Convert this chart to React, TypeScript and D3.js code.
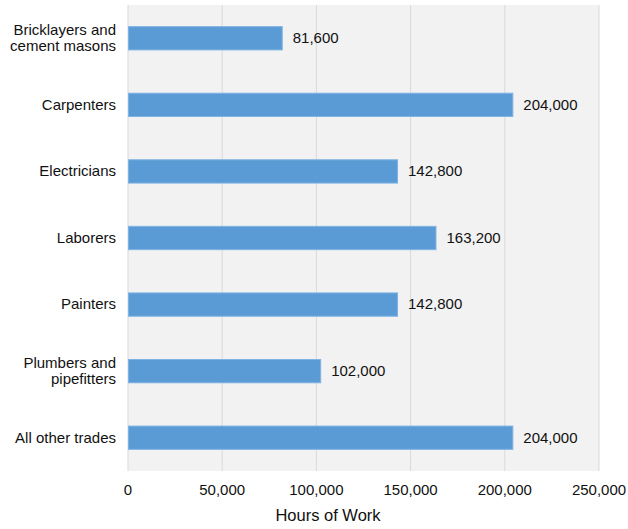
import React from "react";
import * as d3 from "d3";

const categories = [
  "Bricklayers and\ncement masons",
  "Carpenters",
  "Electricians",
  "Laborers",
  "Painters",
  "Plumbers and\npipefitters",
  "All other trades",
];
const hours = [81600, 204000, 142800, 163200, 142800, 102000, 204000];
const xTicks = [0, 50000, 100000, 150000, 200000, 250000];
const axisTitle = "Hours of Work";

const W = 628;
const H = 529;
const M = { left: 128, right: 29, top: 5, bottom: 58 };
const FONT = "'Liberation Sans', Arial, sans-serif";
const TEXT = "#111";

export default function App() {
  const x = d3.scaleLinear().domain([0, 250000]).range([M.left, W - M.right]);
  const y = d3
    .scaleBand<string>()
    .domain(categories)
    .range([M.top, H - M.bottom])
    .paddingInner(0.65)
    .paddingOuter(0.325);
  const fmt = d3.format(",");
  const plotBottom = H - M.bottom;

  return (
    <svg
      width={W}
      height={H}
      style={{ position: "absolute", left: 0, top: 0, fontFamily: FONT }}
    >
      <rect
        x={M.left}
        y={M.top}
        width={W - M.right - M.left}
        height={plotBottom - M.top}
        fill="#f2f2f2"
      />
      {xTicks.map((t) => (
        <line
          key={t}
          x1={x(t)}
          x2={x(t)}
          y1={M.top}
          y2={plotBottom}
          stroke="#d9d9d9"
          strokeWidth={1}
        />
      ))}
      {categories.map((c, i) => {
        const by = y(c)!;
        const bh = y.bandwidth();
        const cy = by + bh / 2;
        const lines = c.split("\n");
        return (
          <g key={c}>
            <rect
              x={x(0) + 0.5}
              y={by}
              width={x(hours[i]) - x(0)}
              height={bh}
              fill="#5b9bd5"
              stroke="#7fb3e3"
              strokeWidth={1}
            />
            <text
              x={x(hours[i]) + 11}
              y={cy}
              dy="0.32em"
              fontSize={15}
              fill={TEXT}
            >
              {fmt(hours[i])}
            </text>
            <text x={116} y={cy} fontSize={15} fill={TEXT} textAnchor="end">
              {lines.map((l, k) => (
                <tspan
                  key={k}
                  x={116}
                  dy={k === 0 ? `${0.32 - ((lines.length - 1) * 1.1) / 2}em` : "1.1em"}
                >
                  {l}
                </tspan>
              ))}
            </text>
          </g>
        );
      })}
      {xTicks.map((t) => (
        <text
          key={t}
          x={x(t)}
          y={plotBottom + 24}
          fontSize={15}
          fill={TEXT}
          textAnchor="middle"
        >
          {fmt(t)}
        </text>
      ))}
      <text
        x={328}
        y={H - 8}
        fontSize={16.5}
        fill={TEXT}
        textAnchor="middle"
      >
        {axisTitle}
      </text>
    </svg>
  );
}
